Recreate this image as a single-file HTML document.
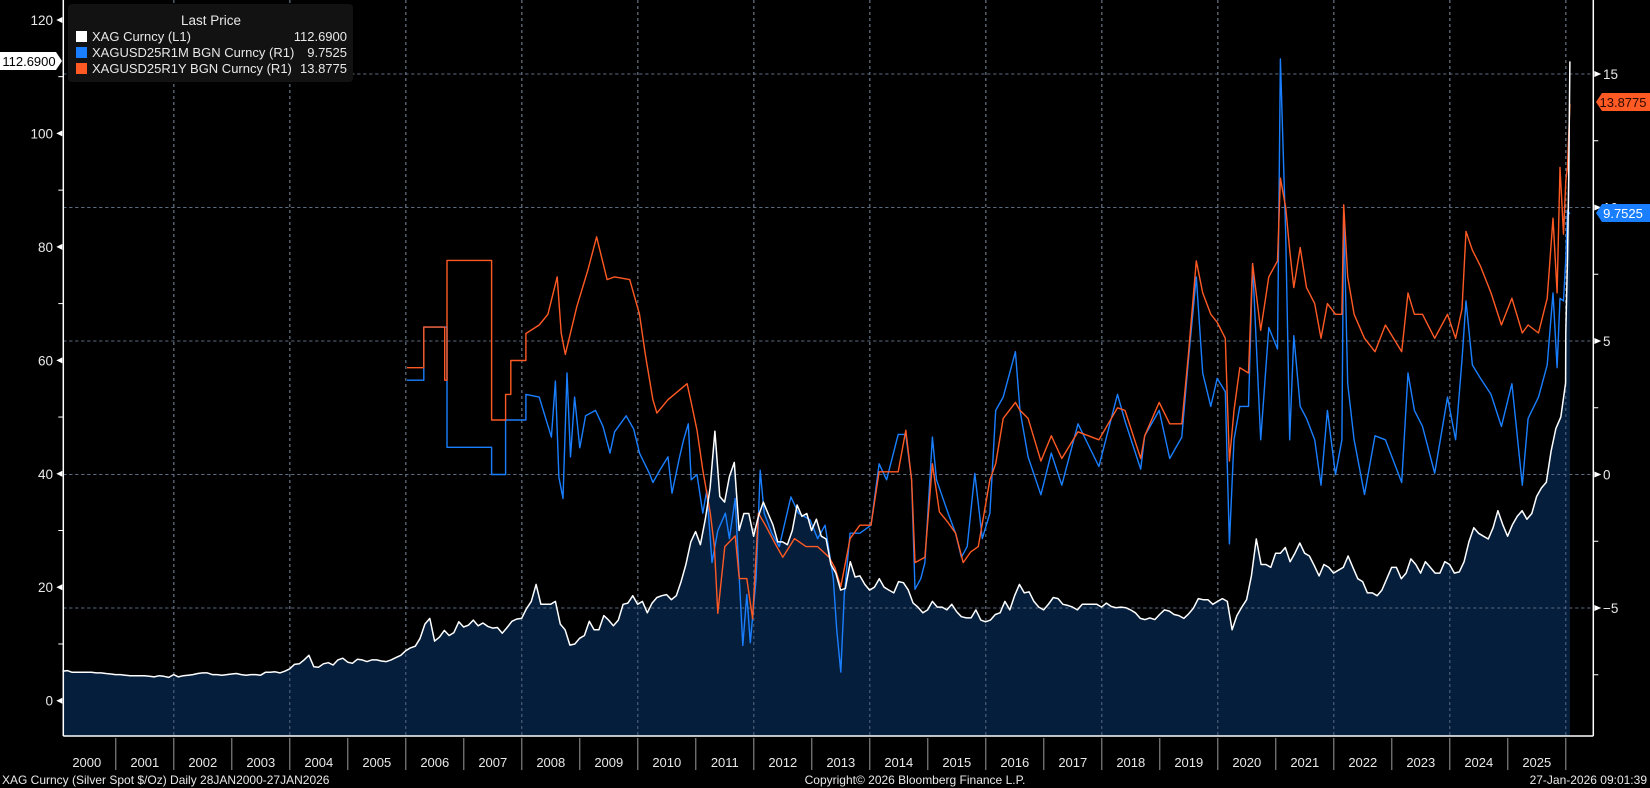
<!DOCTYPE html>
<html><head><meta charset="utf-8"><style>
html,body{margin:0;padding:0;background:#000;}
body{width:1650px;height:788px;overflow:hidden;position:relative;font-family:"Liberation Sans",sans-serif;}
svg{position:absolute;left:0;top:0;}
text{font-family:"Liberation Sans",sans-serif;}
</style></head><body>
<svg id="chart" width="1650" height="788" viewBox="0 0 1650 788">
 <g id="grid"></g>
 <g id="area"></g>
 <g id="series"></g>
 <g id="axes"></g>
 <g id="legend">
  <rect x="68" y="4" width="285" height="78" rx="4" fill="#121212"/>
  <text x="211" y="25" fill="#e8e8e8" font-size="13.5" text-anchor="middle">Last Price</text>
  <g>
   <rect x="76" y="31" width="11" height="11" fill="#fff"/>
   <text x="92" y="41" fill="#e8e8e8" font-size="13">XAG Curncy  (L1)</text>
   <text x="347" y="41" fill="#e8e8e8" font-size="13" text-anchor="end">112.6900</text>
  </g>
  <g>
   <rect x="76" y="47" width="11" height="11" fill="#1a7fff"/>
   <text x="92" y="57" fill="#e8e8e8" font-size="13">XAGUSD25R1M BGN Curncy  (R1)</text>
   <text x="347" y="57" fill="#e8e8e8" font-size="13" text-anchor="end">9.7525</text>
  </g>
  <g>
   <rect x="76" y="63" width="11" height="11" fill="#ff5a24"/>
   <text x="92" y="73" fill="#e8e8e8" font-size="13">XAGUSD25R1Y BGN Curncy  (R1)</text>
   <text x="347" y="73" fill="#e8e8e8" font-size="13" text-anchor="end">13.8775</text>
  </g>
 </g>
 <g id="labels">
  <path d="M0,52 H56 L62,61 L56,70 H0 Z" fill="#fff"/>
  <text x="29" y="66" font-size="13" text-anchor="middle" fill="#000">112.6900</text>
  <path d="M1602,93 H1650 V111 H1602 L1596,102 Z" fill="#ff5a24"/>
  <text x="1623" y="107" font-size="13" text-anchor="middle" fill="#2a0a00">13.8775</text>
  <path d="M1602,204 H1650 V222 H1602 L1596,213 Z" fill="#1a7fff"/>
  <text x="1623" y="218" font-size="13" text-anchor="middle" fill="#fff">9.7525</text>
 </g>
 <text x="2" y="784" fill="#e8e8e8" font-size="12">XAG Curncy (Silver Spot  $/Oz) Daily 28JAN2000-27JAN2026</text>
 <text x="915" y="784" fill="#e8e8e8" font-size="12" text-anchor="middle">Copyright© 2026 Bloomberg Finance L.P.</text>
 <text x="1647" y="784" fill="#e8e8e8" font-size="12" text-anchor="end">27-Jan-2026 09:01:39</text>
</svg>
<script>
// ---- data ----
const xagStart = 2000.08;
const xagMonthly = [
5.2,5.3,5.0,5.0,5.0,5.0,5.0,4.9,4.9,4.8,4.7,4.6,
4.6,4.5,4.4,4.4,4.4,4.4,4.3,4.2,4.4,4.3,4.1,4.6,
4.2,4.4,4.5,4.6,4.8,4.9,4.9,4.6,4.6,4.5,4.6,4.7,
4.8,4.6,4.5,4.6,4.6,4.5,5.0,5.0,5.1,4.9,5.2,5.6,
6.4,6.5,7.2,8.0,6.0,5.9,6.5,6.7,6.3,7.2,7.5,6.8,
6.6,7.3,7.2,6.9,7.2,7.2,7.0,6.9,7.2,7.6,8.0,8.8,
9.3,9.6,11.0,13.5,14.5,10.5,11.2,12.4,11.5,12.0,13.9,13.0,
13.3,14.2,13.2,13.7,13.1,12.8,12.9,11.9,12.9,14.0,14.4,14.5,
16.2,17.5,20.5,17.0,17.0,17.0,17.5,13.5,12.5,9.8,10.0,11.0,
11.5,14.0,12.5,12.5,15.0,14.2,13.2,14.2,17.0,17.2,18.5,17.0,
17.5,15.5,17.2,18.2,18.5,18.7,17.8,18.5,21.0,24.0,28.0,29.8,
27.5,32.0,37.5,47.5,36.0,35.0,39.5,42.0,30.0,33.0,33.0,29.0,
32.5,35.0,33.0,31.0,28.0,28.0,27.5,30.0,34.5,32.5,33.0,30.0,
32.0,29.0,28.5,24.0,22.5,19.5,19.8,24.5,21.8,22.0,20.5,19.5,
20.0,21.5,20.0,19.5,19.0,21.0,20.8,19.5,17.2,16.5,15.5,16.0,
17.5,16.5,16.5,16.0,17.0,15.7,14.8,14.6,14.6,16.0,14.2,13.9,
14.2,15.2,15.5,17.5,16.0,18.5,20.5,19.0,19.2,17.5,16.5,16.0,
17.0,18.2,18.0,17.0,16.8,16.5,16.0,17.0,17.0,17.0,17.0,16.5,
17.2,16.6,16.4,16.5,16.4,16.0,15.5,14.5,14.3,14.6,14.3,15.2,
16.0,15.8,15.2,15.0,14.5,15.3,16.3,18.0,17.8,17.8,17.0,17.5,
18.0,17.5,12.5,15.0,16.5,17.8,22.0,28.5,24.0,24.0,23.5,26.0,
26.0,27.0,24.5,26.0,27.8,26.0,25.5,23.8,22.0,24.0,23.5,22.5,
23.0,23.5,25.5,23.5,21.5,21.0,19.0,19.0,18.5,19.5,21.5,23.5,
23.5,21.5,22.5,25.0,24.0,22.5,24.5,23.5,22.5,22.5,24.5,24.0,
22.5,22.7,24.5,28.0,30.5,29.5,29.0,28.5,30.5,33.5,31.0,29.0,
31.0,32.5,33.5,32.0,33.0,36.0,37.5,38.5,44.0,48.0,50.0,56.0];
const xagTailDates = [2026.0, 2026.03, 2026.05, 2026.07];
const xagTailValues = [65, 78, 92, 112.69];

const rr1yDates = [2006.02,2006.31,2006.31,2006.67,2006.67,2006.71,2006.71,2007.48,2007.48,2007.72,2007.72,2007.81,2007.81,2008.07,2008.07,2008.3,2008.45,2008.61,2008.68,2008.75,2008.95,2009.14,2009.29,2009.47,2009.6,2009.86,2010.03,2010.13,2010.26,2010.33,2010.52,2010.85,2010.92,2011.02,2011.12,2011.25,2011.32,2011.38,2011.5,2011.68,2011.75,2011.88,2011.98,2012.08,2012.2,2012.37,2012.5,2012.7,2012.9,2013.1,2013.3,2013.4,2013.5,2013.66,2013.83,2014.02,2014.16,2014.49,2014.62,2014.72,2014.78,2014.95,2015.08,2015.2,2015.35,2015.48,2015.61,2015.74,2015.87,2016.07,2016.17,2016.3,2016.51,2016.59,2016.73,2016.95,2017.13,2017.31,2017.59,2017.95,2018.27,2018.4,2018.67,2018.74,2018.99,2019.17,2019.38,2019.49,2019.63,2019.74,2019.88,2019.99,2020.13,2020.2,2020.28,2020.38,2020.53,2020.6,2020.74,2020.88,2021.03,2021.08,2021.17,2021.24,2021.31,2021.42,2021.53,2021.67,2021.78,2021.89,2022.03,2022.14,2022.17,2022.24,2022.35,2022.53,2022.71,2022.89,2023.17,2023.28,2023.39,2023.53,2023.74,2023.96,2024.1,2024.21,2024.28,2024.39,2024.53,2024.71,2024.89,2025.07,2025.25,2025.35,2025.53,2025.68,2025.78,2025.85,2025.9,2025.96,2026.0,2026.03,2026.07];
const rr1yValues = [4.0,4.0,5.52,5.52,3.53,3.53,8.02,8.02,2.04,2.04,3.0,3.0,4.27,4.27,5.28,5.6,6.0,7.4,5.3,4.5,6.3,7.66,8.9,7.3,7.4,7.3,6.0,4.5,2.8,2.3,2.8,3.4,2.7,1.66,0.17,-1.45,-2.7,-5.2,-2.7,-2.3,-3.9,-3.9,-5.4,-1.45,-1.9,-2.6,-3.1,-2.4,-2.7,-2.7,-3.1,-3.5,-4.2,-2.4,-1.9,-1.9,0.1,0.1,1.66,-0.2,-3.3,-3.1,0.4,-1.4,-1.8,-2.2,-3.3,-2.9,-2.7,-0.2,0.4,2.1,2.7,2.4,2.1,0.5,1.45,0.6,1.6,1.3,2.5,2.4,0.6,1.45,2.7,1.9,1.9,4.4,8.0,6.8,6.0,5.7,5.1,0.5,2.4,4.0,3.8,7.9,5.4,7.4,8.0,11.1,10.0,8.4,7.0,8.5,7.0,6.4,5.1,6.4,6.0,6.0,10.1,7.4,6.0,5.1,4.6,5.6,4.6,6.8,6.0,6.0,5.1,6.0,5.1,6.2,9.1,8.4,7.8,6.8,5.6,6.6,5.3,5.6,5.3,6.6,9.6,6.8,11.5,9.0,11.0,11.5,13.88];

const rr1mDates = [2006.02,2006.31,2006.31,2006.71,2006.71,2007.48,2007.48,2007.72,2007.72,2008.07,2008.07,2008.3,2008.51,2008.58,2008.64,2008.71,2008.78,2008.84,2008.91,2009.0,2009.1,2009.27,2009.4,2009.52,2009.6,2009.8,2009.93,2010.03,2010.2,2010.26,2010.39,2010.52,2010.59,2010.72,2010.79,2010.87,2010.92,2011.02,2011.12,2011.19,2011.28,2011.38,2011.51,2011.58,2011.68,2011.75,2011.81,2011.88,2011.94,2012.04,2012.11,2012.18,2012.31,2012.44,2012.64,2012.77,2012.97,2013.1,2013.23,2013.37,2013.43,2013.5,2013.56,2013.66,2013.83,2014.02,2014.16,2014.29,2014.49,2014.62,2014.72,2014.78,2014.88,2014.95,2015.08,2015.15,2015.35,2015.48,2015.58,2015.68,2015.81,2015.94,2016.07,2016.17,2016.3,2016.51,2016.59,2016.73,2016.95,2017.13,2017.31,2017.59,2017.95,2018.27,2018.4,2018.67,2018.74,2018.99,2019.17,2019.38,2019.49,2019.63,2019.74,2019.88,2019.99,2020.13,2020.2,2020.28,2020.38,2020.53,2020.6,2020.74,2020.88,2021.03,2021.08,2021.17,2021.24,2021.31,2021.42,2021.53,2021.67,2021.78,2021.89,2022.03,2022.14,2022.17,2022.24,2022.35,2022.53,2022.71,2022.89,2023.17,2023.28,2023.39,2023.53,2023.74,2023.96,2024.1,2024.21,2024.28,2024.39,2024.53,2024.71,2024.89,2025.07,2025.25,2025.35,2025.53,2025.68,2025.78,2025.85,2025.9,2025.96,2026.0,2026.03,2026.07];
const rr1mValues = [3.53,3.53,5.52,5.52,1.02,1.02,0.0,0.0,2.04,2.04,3.0,2.9,1.4,3.5,-0.1,-0.9,3.8,0.66,2.9,1.0,2.2,2.4,1.8,0.8,1.6,2.2,1.7,0.8,0.04,-0.3,0.2,0.66,-0.7,0.66,1.3,1.9,-0.2,0.0,-1.45,-0.6,-3.3,-2.1,-1.45,-2.4,-0.9,-3.9,-6.4,-4.5,-6.3,-3.9,0.16,-1.45,-2.2,-2.7,-0.84,-1.45,-1.7,-2.4,-1.9,-3.9,-5.8,-7.4,-4.5,-2.2,-2.2,-1.9,0.4,-0.2,1.5,1.5,-0.2,-4.3,-3.9,-3.3,1.4,-0.2,-1.45,-2.2,-3.1,-2.7,0.04,-2.4,-1.45,2.4,2.9,4.6,2.4,0.66,-0.76,0.8,-0.4,1.9,0.3,3.0,2.0,0.2,1.45,2.4,0.6,1.4,4.2,7.4,3.8,2.55,3.6,3.1,-2.6,1.3,2.55,2.55,7.9,1.3,5.5,4.7,15.56,9.0,1.3,5.2,2.55,2.1,1.3,-0.4,2.4,0.0,1.3,9.9,3.4,1.3,-0.75,1.45,1.3,-0.3,3.8,2.4,1.8,0.05,2.9,1.3,4.3,6.5,4.1,3.6,3.0,1.8,3.4,-0.4,2.1,2.9,4.1,6.8,4.0,6.6,6.5,8.1,9.9,9.75];

// ---- scales ----
const NS='http://www.w3.org/2000/svg';
const PL=63.3, PR=1593.3, PT=0, PB=736;
const X0=57.8, YW=58.0;
function xs(yr){return X0+(yr-2000)*YW;}
function yl(v){return 700.7-v*5.673;}
function yr(v){return 474.5-v*26.7;}
function mk(tag,attrs,parent){const e=document.createElementNS(NS,tag);for(const k in attrs)e.setAttribute(k,attrs[k]);parent.appendChild(e);return e;}

const grid=document.getElementById('grid'),area=document.getElementById('area'),ser=document.getElementById('series'),axes=document.getElementById('axes');
const yearLabels=[];for(let y=2000;y<=2025;y++)yearLabels.push(String(y));
const leftTicks=[0,20,40,60,80,100,120];
const rightTicks=[-5,0,5,10,15];

// gridlines
for(let y=2002;y<=2026;y+=2){
 const g=mk('line',{x1:xs(y),x2:xs(y),y1:PT,y2:PB,stroke:'#8a8a8a','stroke-width':1,'stroke-dasharray':'3,3'},grid);
 
 
}
rightTicks.forEach(v=>{
 const g=mk('line',{x1:PL,x2:PR,y1:yr(v),y2:yr(v),stroke:'#8a8a8a','stroke-width':1,'stroke-dasharray':'3,3'},grid);
 
 
});

// xag series
const xagX=[],xagY=[];
xagMonthly.forEach((v,i)=>{xagX.push(xs(xagStart+i/12));xagY.push(yl(v));});
xagTailDates.forEach((d,i)=>{xagX.push(xs(d));xagY.push(yl(xagTailValues[i]));});
let pth='';xagX.forEach((x,i)=>{pth+=(i?'L':'M')+x.toFixed(1)+','+xagY[i].toFixed(1);});
const fill=mk('path',{d:pth+'L'+xagX[xagX.length-1].toFixed(1)+','+PB+'L'+xagX[0].toFixed(1)+','+PB+'Z',fill:'#051e3b'},area);


for(let y=2002;y<=2026;y+=2){
 const g=mk('line',{x1:xs(y),x2:xs(y),y1:PT,y2:PB,stroke:'#5a6a80','stroke-width':1,'stroke-dasharray':'3,3'},area);
 
 
}
rightTicks.forEach(v=>{
 const g=mk('line',{x1:PL,x2:PR,y1:yr(v),y2:yr(v),stroke:'#5a6a80','stroke-width':1,'stroke-dasharray':'3,3'},area);
 
 
});
function line(dates,vals,color,name,ys){
 let d='';dates.forEach((t,i)=>{d+=(i?'L':'M')+xs(t).toFixed(1)+','+ys(vals[i]).toFixed(1);});
 const p=mk('path',{d:d,fill:'none',stroke:color,'stroke-width':1.4,'stroke-linejoin':'round'},ser);
 
 
}
line(rr1mDates,rr1mValues,'#1a7fff','series-xagusd25r1m',yr);
line(rr1yDates,rr1yValues,'#ff5a24','series-xagusd25r1y',yr);
const xl=mk('path',{d:pth,fill:'none',stroke:'#fff','stroke-width':1.5,'stroke-linejoin':'round'},ser);



// axes
const la=mk('line',{x1:PL,x2:PL,y1:0,y2:PB,stroke:'#fff','stroke-width':1.5},axes);


const ra=mk('line',{x1:PR,x2:PR,y1:0,y2:PB,stroke:'#fff','stroke-width':1.5},axes);


const ba=mk('line',{x1:PL,x2:PR,y1:PB,y2:PB,stroke:'#fff','stroke-width':1.5},axes);


leftTicks.forEach(v=>{
 const y=yl(v);
 mk('path',{d:`M${PL-1},${y-3}L${PL-7},${y}L${PL-1},${y+3}Z`,fill:'#fff'},axes);
 const t=mk('text',{x:53,y:y+5,fill:'#e8e8e8','font-size':13.5,'text-anchor':'end'},axes);
 t.textContent=v;
 
 
 if(v<120){const m=yl(v+10);mk('line',{x1:PL-5,x2:PL,y1:m,y2:m,stroke:'#fff'},axes);}
});
rightTicks.forEach(v=>{
 const y=yr(v);
 mk('path',{d:`M${PR+1},${y-3}L${PR+8},${y}L${PR+1},${y+3}Z`,fill:'#fff'},axes);
 const t=mk('text',{x:1603,y:y+5,fill:'#e8e8e8','font-size':13.5},axes);
 t.textContent=String(v).replace('-','\u2212');
 
 
 const m=yr(v-2.5);mk('line',{x1:PR,x2:PR+5,y1:m,y2:m,stroke:'#fff'},axes);
});
for(let y=2000;y<=2026;y++){
 if(y>2000) mk('line',{x1:xs(y),x2:xs(y),y1:PB+2,y2:770,stroke:'#9a9a9a'},axes);
}
yearLabels.forEach((lab,i)=>{
 const t=mk('text',{x:xs(2000+i+0.5),y:767,fill:'#e8e8e8','font-size':13,'text-anchor':'middle'},axes);
 t.textContent=lab;
 
 
});
</script>
</body></html>
